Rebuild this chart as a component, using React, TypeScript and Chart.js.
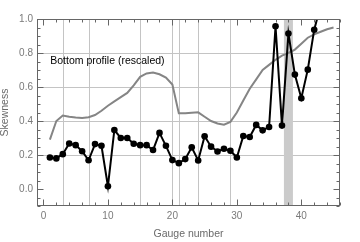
import React, { useEffect, useRef } from "react";
import { Chart, registerables } from "chart.js";

Chart.register(...registerables);

// ---- data ----
const gauges = [
  1, 2, 3, 4, 5, 6, 7, 8, 9, 10, 11, 12, 13, 14, 15, 16, 17, 18, 19, 20, 21,
  22, 23, 24, 25, 26, 27, 28, 29, 30, 31, 32, 33, 34, 35, 36, 37, 38, 39, 40,
  41, 42, 43,
];
const skewness = [
  0.185, 0.18, 0.205, 0.268, 0.258, 0.222, 0.169, 0.264, 0.254, 0.016, 0.347,
  0.3, 0.3, 0.266, 0.258, 0.258, 0.229, 0.33, 0.254, 0.17, 0.152, 0.176, 0.245,
  0.168, 0.31, 0.249, 0.221, 0.237, 0.225, 0.185, 0.312, 0.306, 0.377, 0.345,
  0.365, 0.957, 0.373, 0.915, 0.673, 0.534, 0.702, 0.937, 1.08,
];
const profileGauges = [
  1, 2, 3, 4, 5, 6, 7, 8, 9, 10, 11, 12, 13, 14, 15, 16, 17, 18, 19, 20, 21,
  22, 23, 24, 25, 26, 27, 28, 29, 30, 31, 32, 33, 34, 35, 36, 37, 38, 39, 40,
  41, 42, 43, 44, 45,
];
const bottomProfile = [
  0.29, 0.4, 0.432, 0.425, 0.42, 0.418, 0.422, 0.435, 0.46, 0.49, 0.515, 0.54,
  0.565, 0.61, 0.66, 0.68, 0.685, 0.675, 0.655, 0.615, 0.445, 0.445, 0.448,
  0.451, 0.425, 0.4, 0.385, 0.378, 0.395, 0.45, 0.52, 0.59, 0.645, 0.7, 0.73,
  0.76, 0.785, 0.8, 0.82, 0.855, 0.89, 0.91, 0.925, 0.94, 0.95,
];
const gridGauges = [3, 7, 15, 20, 21, 24, 29];
const gridSkew = [0.2, 0.4, 0.6, 0.8];
const bandRange = [37.3, 38.7];
const xTicks = [0, 10, 20, 30, 40];
const yTicks = [0, 0.2, 0.4, 0.6, 0.8, 1.0];
const xRange = [-1, 46];
const yRange = [-0.1, 1.0];
const xMinorStep = 2;
const yMinorStep = 0.05;
const annotationText = "Bottom profile (rescaled)";
const annotationPos = [1.05, 0.753];
const xTitle = "Gauge number";
const yTitle = "Skewness";

const FONT = "'Liberation Sans', Arial, sans-serif";

const decorPlugin = {
  id: "decor",
  beforeDatasetsDraw(chart: any) {
    const { ctx, chartArea: a, scales } = chart;
    const xs = scales.x;
    const ys = scales.y;
    ctx.save();
    ctx.strokeStyle = "#c4c4c4";
    ctx.lineWidth = 1;
    gridSkew.forEach((v) => {
      const py = Math.round(ys.getPixelForValue(v)) + 0.5;
      ctx.beginPath();
      ctx.moveTo(a.left, py);
      ctx.lineTo(a.right, py);
      ctx.stroke();
    });
    gridGauges.forEach((v) => {
      const px = Math.round(xs.getPixelForValue(v)) + 0.5;
      ctx.beginPath();
      ctx.moveTo(px, a.top);
      ctx.lineTo(px, a.bottom);
      ctx.stroke();
    });
    const b0 = xs.getPixelForValue(bandRange[0]);
    const b1 = xs.getPixelForValue(bandRange[1]);
    ctx.fillStyle = "#cbcbcb";
    ctx.fillRect(b0, a.top, b1 - b0, a.bottom - a.top);
    ctx.restore();
  },
  afterDatasetsDraw(chart: any) {
    const { ctx, chartArea: a, scales } = chart;
    const xs = scales.x;
    const ys = scales.y;
    ctx.save();
    ctx.strokeStyle = "#666666";
    ctx.lineWidth = 1;
    const L = Math.round(a.left) + 0.5;
    const R = Math.round(a.right) - 0.5;
    const T = Math.round(a.top) + 0.5;
    const B = Math.round(a.bottom) - 0.5;
    ctx.strokeRect(L, T, R - L, B - T);
    const isMajor = (v: number, arr: number[]) =>
      arr.some((m) => Math.abs(m - v) < 1e-6);
    // x ticks
    for (let v = Math.ceil(xRange[0] / xMinorStep) * xMinorStep; v <= xRange[1]; v += xMinorStep) {
      const px = Math.round(xs.getPixelForValue(v)) + 0.5;
      const len = isMajor(v, xTicks) ? 6 : 3;
      ctx.beginPath();
      ctx.moveTo(px, B);
      ctx.lineTo(px, B - len);
      ctx.moveTo(px, T);
      ctx.lineTo(px, T + len);
      ctx.stroke();
    }
    for (const v of xTicks) {
      if (v % xMinorStep === 0) continue;
    }
    // y ticks
    const n0 = Math.ceil(yRange[0] / yMinorStep - 1e-6);
    const n1 = Math.floor(yRange[1] / yMinorStep + 1e-6);
    for (let n = n0; n <= n1; n++) {
      const v = n * yMinorStep;
      const py = Math.round(ys.getPixelForValue(v)) + 0.5;
      const len = isMajor(v, yTicks) ? 6 : 3;
      ctx.beginPath();
      ctx.moveTo(L, py);
      ctx.lineTo(L + len, py);
      ctx.moveTo(R, py);
      ctx.lineTo(R - len, py);
      ctx.stroke();
    }
    // annotation
    ctx.fillStyle = "#000000";
    ctx.font = `10.5px ${FONT}`;
    ctx.textAlign = "left";
    ctx.textBaseline = "middle";
    ctx.fillText(
      annotationText,
      xs.getPixelForValue(annotationPos[0]),
      ys.getPixelForValue(annotationPos[1])
    );
    ctx.restore();
  },
};

export default function App() {
  const ref = useRef<HTMLCanvasElement | null>(null);
  useEffect(() => {
    document.body.style.margin = "0";
    const canvas = ref.current;
    if (!canvas) return;
    Chart.defaults.font.family = FONT;
    const chart = new Chart(canvas, {
      type: "line",
      data: {
        datasets: [
          {
            data: gauges.map((g, i) => ({ x: g, y: skewness[i] })),
            borderColor: "#000000",
            backgroundColor: "#000000",
            borderWidth: 2,
            pointRadius: 3.3,
            pointBorderWidth: 0,
            pointBackgroundColor: "#000000",
            tension: 0,
            clip: 0,
          },
          {
            data: profileGauges.map((g, i) => ({ x: g, y: bottomProfile[i] })),
            borderColor: "#858585",
            borderWidth: 2,
            pointRadius: 0,
            tension: 0,
            clip: 0,
          },
        ],
      },
      options: {
        animation: false,
        responsive: false,
        devicePixelRatio: 1,
        events: [],
        layout: { padding: { top: 19, right: 20, left: 0, bottom: 0 } },
        plugins: {
          legend: { display: false },
          tooltip: { enabled: false },
        },
        scales: {
          x: {
            type: "linear",
            min: xRange[0],
            max: xRange[1],
            grid: { display: false, drawTicks: false },
            border: { display: false },
            afterBuildTicks: (s: any) => {
              s.ticks = xTicks.map((v) => ({ value: v }));
            },
            afterFit: (s: any) => {
              s.height = 36;
            },
            ticks: {
              padding: 4,
              color: "#7a7a7a",
              font: { size: 10, family: FONT },
              maxRotation: 0,
              callback: (v: any) => String(v),
            },
            title: {
              display: true,
              text: xTitle,
              color: "#6a6a6a",
              font: { size: 10.5, family: FONT, lineHeight: 1.2 },
              padding: { top: 0, bottom: 1.2 },
            },
          },
          y: {
            type: "linear",
            min: yRange[0],
            max: yRange[1],
            grid: { display: false, drawTicks: false },
            border: { display: false },
            afterBuildTicks: (s: any) => {
              s.ticks = yTicks.map((v) => ({ value: v }));
            },
            afterFit: (s: any) => {
              s.width = 37;
            },
            ticks: {
              padding: 4,
              color: "#7a7a7a",
              font: { size: 10, family: FONT },
              callback: (v: any) => Number(v).toFixed(1),
            },
            title: {
              display: true,
              text: yTitle,
              color: "#6a6a6a",
              font: { size: 10.5, family: FONT, lineHeight: 1 },
              padding: { top: 0, bottom: 0 },
            },
          },
        },
      },
      plugins: [decorPlugin],
    } as any);
    return () => chart.destroy();
  }, []);
  return (
    <div style={{ width: 360, height: 242 }}>
      <canvas ref={ref} width={360} height={242} style={{ display: "block" }} />
    </div>
  );
}
